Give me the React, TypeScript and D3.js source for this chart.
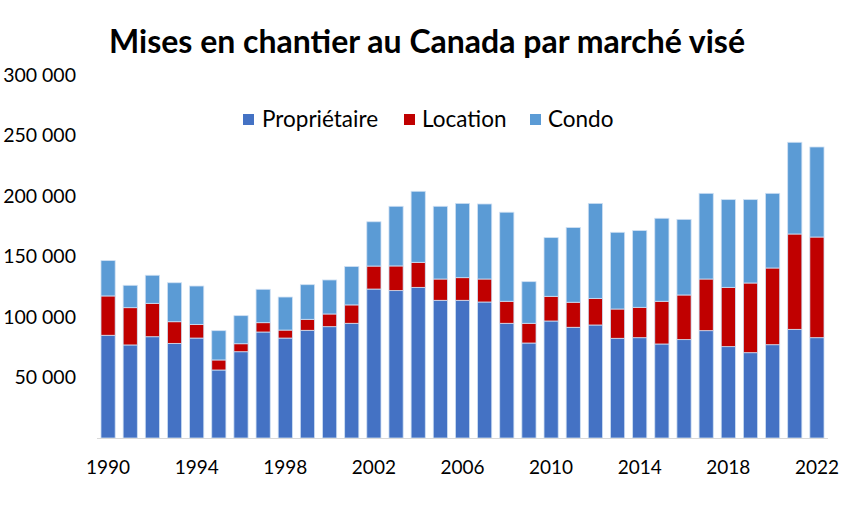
import React from "react";
import * as d3 from "d3";

const years = d3.range(1990, 2023).map(String);
const proprietaire = [84.9, 76.9, 83.7, 78.2, 82.6, 56.2, 71.3, 87.6, 82.6, 89.0, 92.0, 94.8, 123.1, 121.8, 124.5, 113.8, 113.8, 112.4, 94.8, 78.5, 96.7, 91.5, 93.4, 82.4, 82.9, 77.7, 81.3, 88.7, 75.5, 70.5, 77.1, 89.8, 82.9];
const location = [32.5, 30.8, 27.6, 17.9, 11.3, 8.3, 6.6, 7.7, 6.6, 9.1, 10.5, 15.2, 19.0, 20.4, 20.7, 17.6, 18.7, 19.0, 18.2, 16.3, 20.4, 20.7, 22.0, 24.2, 25.1, 35.3, 36.9, 42.7, 49.0, 57.6, 63.4, 78.8, 83.2];
const condo = [29.2, 18.5, 23.2, 32.2, 31.7, 24.2, 23.2, 27.6, 27.3, 28.6, 28.1, 31.7, 36.6, 49.3, 58.7, 60.1, 61.4, 62.0, 73.6, 34.4, 48.5, 61.7, 78.5, 63.4, 63.4, 68.6, 62.5, 70.8, 72.5, 68.9, 61.7, 75.8, 74.4];
const seriesNames = ["Propriétaire", "Location", "Condo"];
const colors = ["#4472C4", "#C00000", "#5B9BD5"];
const yTicks = [50000, 100000, 150000, 200000, 250000, 300000];
const xTickYears = ["1990", "1994", "1998", "2002", "2006", "2010", "2014", "2018", "2022"];

const W = 850;
const H = 515;
const FONT = "Lato, 'Open Sans', sans-serif";

export default function App() {
  const rows = years.map((y, i) => ({
    year: y,
    p: proprietaire[i] * 1000,
    l: location[i] * 1000,
    c: condo[i] * 1000,
  }));
  const stack = d3.stack<any>().keys(["p", "l", "c"])(rows);
  const x = d3.scaleBand().domain(years).range([97, 828]).paddingInner(0.36).paddingOuter(0.18);
  const y = d3.scaleLinear().domain([0, 300000]).range([438, 75]);
  const fmt = (v: number) => d3.format(",")(v).replace(/,/g, " ");

  const legendItems = [
    { x: 243, tx: 262 },
    { x: 404, tx: 422 },
    { x: 530, tx: 548 },
  ];

  return (
    <svg width={W} height={H} style={{ display: "block", position: "absolute", left: 0, top: 0, background: "#fff" }}>
      <text x={427} y={53} textAnchor="middle" fontFamily={FONT} fontWeight="bold" fontSize={32} fill="#000">
        Mises en chantier au Canada par marché visé
      </text>
      {yTicks.map((t) => (
        <text key={t} x={76} y={y(t)} dy="0.35em" textAnchor="end" fontFamily={FONT} fontSize={19.5} fill="#000">
          {fmt(t)}
        </text>
      ))}
      {stack.map((s, si) => (
        <g key={si} fill={colors[si]}>
          {s.map((d: any, i: number) => (
            <rect
              key={i}
              x={x(years[i])}
              y={y(d[1])}
              width={x.bandwidth()}
              height={y(d[0]) - y(d[1])}
              stroke="#cfe0f3"
              strokeWidth={0.8}
            />
          ))}
        </g>
      ))}
      <line x1={97} x2={828} y1={438.5} y2={438.5} stroke="#d9d9d9" strokeWidth={1.2} />
      {xTickYears.map((t) => (
        <text key={t} x={(x(t) as number) + x.bandwidth() / 2} y={474} textAnchor="middle" fontFamily={FONT} fontSize={19} fill="#000">
          {t}
        </text>
      ))}
      {legendItems.map((it, i) => (
        <g key={i}>
          <rect x={it.x} y={114} width={11} height={11} fill={colors[i]} />
          <text x={it.tx} y={127} fontFamily={FONT} fontSize={22.5} fill="#000">
            {seriesNames[i]}
          </text>
        </g>
      ))}
    </svg>
  );
}
